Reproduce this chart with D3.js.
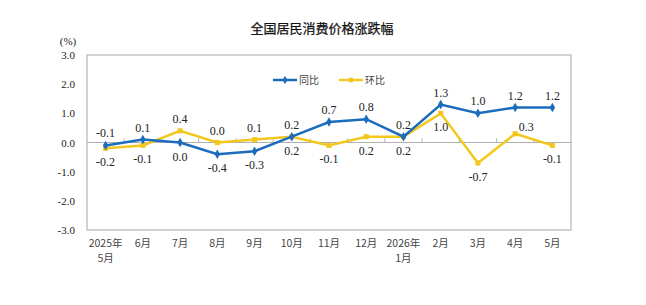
<!DOCTYPE html>
<html lang="zh">
  <head>
    <meta charset="UTF-8" />
    <title>全国居民消费价格涨跌幅</title>
    <script src="https://cdnjs.cloudflare.com/ajax/libs/d3/7.8.5/d3.min.js"></script>
    <style>
      body { margin: 0; background: #fff; }
      svg { display: block; }
      .num { font-family: "Liberation Serif", "DejaVu Serif", serif; font-size: 12px; fill: #222; }
      .cat { font-family: "Noto Sans CJK SC", sans-serif; font-size: 10.5px; fill: #444; }
    </style>
  </head>
  <body>
    <svg width="646" height="305"></svg>
    <script>
      // data
      const months = ['2025年|5月', '6月', '7月', '8月', '9月', '10月', '11月', '12月', '2026年|1月', '2月', '3月', '4月', '5月'];
      const yoy = [-0.1, 0.1, 0.0, -0.4, -0.3, 0.2, 0.7, 0.8, 0.2, 1.3, 1.0, 1.2, 1.2];
      const mom = [-0.2, -0.1, 0.4, 0.0, 0.1, 0.2, -0.1, 0.2, 0.2, 1.0, -0.7, 0.3, -0.1];
      // label placement: 1 above, -1 below, 2 upper-right
      const yoyPos = [1, 1, -1, -1, -1, 1, 1, 1, 1, 1, 1, 1, 1];
      const momPos = [-1, -1, 1, 1, 1, -1, -1, -1, -1, -1, -1, 2, -1];
      const yTicks = [3, 2, 1, 0, -1, -2, -3];

      const svg = d3.select('svg');
      const plotL = 87, plotR = 571, plotT = 55, plotB = 230;
      const blue = '#1b6cbf', yellow = '#f3c81e';

      const x = d3.scaleBand().domain(months).range([plotL, plotR]);
      const y = d3.scaleLinear().domain([-3, 3]).range([plotB, plotT]);
      const cx = d => x(d) + x.bandwidth() / 2;

      // title
      svg.append('text')
        .attr('x', 322).attr('y', 33)
        .attr('text-anchor', 'middle')
        .style('font-family', '"Noto Sans CJK SC", sans-serif')
        .style('font-size', '13px')
        .style('fill', '#111')
        .style('stroke', '#111')
        .style('stroke-width', 0.25)
        .text('全国居民消费价格涨跌幅');

      // plot frame
      svg.append('rect')
        .attr('x', plotL).attr('y', plotT)
        .attr('width', plotR - plotL).attr('height', plotB - plotT)
        .attr('fill', 'none').attr('stroke', '#a6a6a6').attr('stroke-width', 1);

      // zero line with ticks
      svg.append('line')
        .attr('x1', plotL).attr('x2', plotR)
        .attr('y1', y(0)).attr('y2', y(0))
        .attr('stroke', '#b0b0b0');
      svg.selectAll('.xtick')
        .data(months.slice(1))
        .enter().append('line')
        .attr('x1', d => x(d)).attr('x2', d => x(d))
        .attr('y1', y(0)).attr('y2', y(0) - 4)
        .attr('stroke', '#b0b0b0');

      // y labels
      svg.selectAll('.ylab')
        .data(yTicks)
        .enter().append('text')
        .attr('class', 'num')
        .attr('x', 75).attr('y', d => y(d) + 4)
        .attr('text-anchor', 'end')
        .style('font-size', '11px')
        .text(d => d.toFixed(1));
      svg.append('text')
        .attr('class', 'num')
        .attr('x', 68).attr('y', 45)
        .attr('text-anchor', 'middle')
        .style('font-size', '11px')
        .text('(%)');

      // x labels
      months.forEach(m => {
        const parts = m.split('|');
        parts.forEach((p, i) => {
          svg.append('text')
            .attr('class', 'cat')
            .attr('x', cx(m)).attr('y', 247 + i * 15)
            .attr('text-anchor', 'middle')
            .text(p);
        });
      });

      const line = d3.line().x((d, i) => cx(months[i])).y(d => y(d));

      function series(vals, color, shape, pos) {
        svg.append('path')
          .datum(vals)
          .attr('d', line)
          .attr('fill', 'none')
          .attr('stroke', color)
          .attr('stroke-width', 2.5);
        svg.selectAll(null)
          .data(vals)
          .enter().append('path')
          .attr('d', d3.symbol().type(shape).size(26))
          .attr('transform', (d, i) => `translate(${cx(months[i])},${y(d)})`)
          .attr('fill', color);
        svg.selectAll(null)
          .data(vals)
          .enter().append('text')
          .attr('class', 'num')
          .attr('text-anchor', 'middle')
          .attr('x', (d, i) => cx(months[i]) + (pos[i] === 2 ? 11 : 0))
          .attr('y', (d, i) => y(d) + (pos[i] === -1 ? 18 : pos[i] === 2 ? -3 : -8))
          .text(d => d.toFixed(1));
      }

      series(mom, yellow, d3.symbolSquare, momPos);
      series(yoy, blue, d3.symbolDiamond, yoyPos);

      // legend
      const legend = [
        { name: '同比', color: blue, shape: d3.symbolDiamond, x: 273 },
        { name: '环比', color: yellow, shape: d3.symbolSquare, x: 339 }
      ];
      legend.forEach(l => {
        svg.append('line')
          .attr('x1', l.x).attr('x2', l.x + 24)
          .attr('y1', 80).attr('y2', 80)
          .attr('stroke', l.color).attr('stroke-width', 2.5);
        svg.append('path')
          .attr('d', d3.symbol().type(l.shape).size(20))
          .attr('transform', `translate(${l.x + 12},80)`)
          .attr('fill', l.color);
        svg.append('text')
          .attr('class', 'cat')
          .attr('x', l.x + 26).attr('y', 84)
          .style('font-size', '10px')
          .text(l.name);
      });
    </script>
  </body>
</html>
